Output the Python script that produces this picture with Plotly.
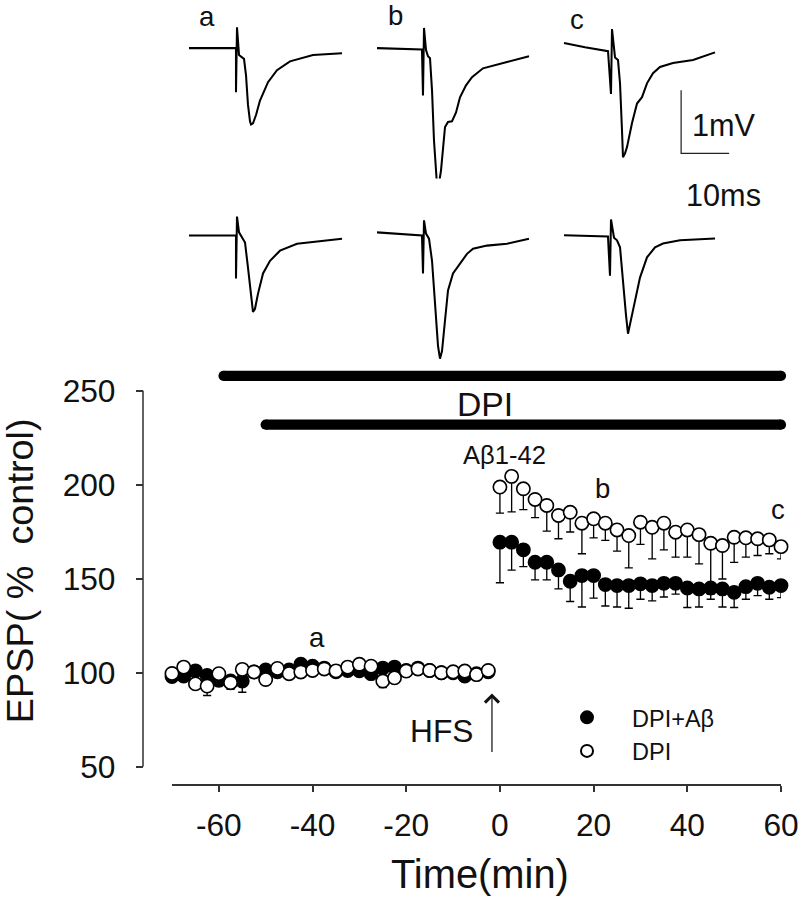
import plotly.graph_objects as go

# ---------------- time-course data ----------------
time_min = [-70, -67.5, -65, -62.5, -60, -57.5, -55, -52.5, -50, -47.5, -45, -42.5, -40, -37.5,
            -35, -32.5, -30, -27.5, -25, -22.5, -20, -17.5, -15, -12.5, -10, -7.5, -5, -2.5,
            0, 2.5, 5, 7.5, 10, 12.5, 15, 17.5, 20, 22.5, 25, 27.5, 30, 32.5, 35, 37.5,
            40, 42.5, 45, 47.5, 50, 52.5, 55, 57.5, 60]

dpi_abeta = [98, 98.2, 101, 98.6, 96, 95.6, 95.6, 100.5, 101.5, 100.5, 101.5, 104.5, 103.5, 102.5,
             100.5, 101.2, 101, 99.5, 102.5, 103, 101.2, 102.5, 101.2, 100, 100, 98.2, 99.5, 100.5,
             169.5, 169.5, 165.4, 158.8, 158.8, 154.7, 148.7, 151.7, 151.7, 146.9, 146.4, 146.4, 147.3,
             146.4, 147.6, 147.6, 145.1, 144.6, 145.1, 144.6, 142.8, 145.8, 147.6, 145.5, 146.4]
dpi_abeta_sem = [2, 2, 2, 2, 3, 2, 6, 2, 2, 2, 2, 2, 2, 2,
                 2, 2, 2, 2, 3, 2, 2, 2, 2, 2, 2, 2, 2, 2,
                 21.6, 14.9, 8.9, 9.4, 9.4, 10.1, 10.8, 16.7, 12, 11.4, 11.4, 12.1, 8.2,
                 8.2, 7.3, 5.8, 10.4, 9.6, 6, 9.6, 8.1, 6.7, 6.6, 6.4, 6.4]

dpi_only = [99.6, 103, 94.1, 92.9, 99.5, 94.7, 101.8, 100.4, 96.4, 102.3, 99.5, 100.4, 101.2, 102,
            101, 103, 104.5, 103.5, 95.6, 97.3, 100.9, 102, 101.2, 100, 100.5, 100.9, 99, 101.2,
            198.8, 204.5, 197.9, 192.2, 189, 183.7, 185.4, 179.6, 181.9, 179.6, 176, 173, 180.1,
            177.4, 179.6, 174.8, 176, 173.5, 168.9, 167.7, 172.1, 171.8, 171.3, 170.7, 167.1]
dpi_only_sem = [1.5, 1.5, 2, 5, 1.5, 3.5, 1.5, 1.5, 2, 1.5, 1.5, 1.5, 1.5, 1.5,
                1.5, 1.5, 1.5, 1.5, 3.5, 2, 1.5, 1.5, 1.5, 1.5, 1.5, 1.5, 1.5, 1.5,
                13.9, 18.9, 11.1, 9.7, 13.6, 12.4, 10.5, 16.3, 10.1, 9.2, 11.3, 17.2, 11.8,
                16.8, 14.2, 13.3, 14.5, 15.6, 27, 17.8, 13.4, 10.3, 8.9, 7.4, 6.5]

series_names = ["DPI+A\u03b2", "DPI"]

x_tick_vals = [-60, -40, -20, 0, 20, 40, 60]
x_tick_text = ["-60", "-40", "-20", "0", "20", "40", "60"]
y_tick_vals = [50, 100, 150, 200, 250]

# drug application periods (min)
dpi_period = [-59, 60]
abeta_period = [-50, 60]
hfs_time = -1.7

# ---------------- sample EPSP traces (ms, mV) ----------------
a_top_ms = [-10, -0.21, -0.21, 0, 0.42, 1.04, 1.46, 1.88, 2.29, 2.71, 2.92, 3.33, 3.96, 4.79, 5.63,
            6.46, 8.33, 11.04, 15.83, 21.88]
a_top_mv = [0, 0, -0.70, 0.33, -0.11, -0.14, -0.17, -0.43, -0.90, -1.16, -1.21, -1.19, -1.06, -0.83,
            -0.67, -0.54, -0.35, -0.21, -0.11, -0.08]
b_top_ms = [-9.79, -0.42, -0.21, 0, 0.42, 0.83, 1.25, 1.67, 2.08, 2.5, 2.71, 3.13, 3.54, 4.38, 5.0,
            5.83, 6.67, 7.5, 8.75, 10.0, 12.29, 17.29, 21.88]
b_top_mv = [0, -0.02, -0.75, 0.32, -0.03, -0.13, -0.16, -0.67, -1.46, -2.06, -2.17, -2.14, -1.94,
            -1.25, -1.17, -1.16, -1.02, -0.78, -0.59, -0.46, -0.32, -0.22, -0.13]
c_top_ms = [-10, -5.63, -0.83, -0.21, 0, 0.63, 1.25, 1.67, 2.08, 2.29, 2.71, 3.13, 4.17, 5.21, 6.25,
            7.29, 8.54, 10.0, 12.71, 16.88, 21.46]
c_top_mv = [0.13, 0.06, 0, -0.68, 0.35, -0.10, -0.14, -0.51, -1.25, -1.68, -1.62, -1.52, -1.14,
            -0.83, -0.73, -0.51, -0.35, -0.25, -0.19, -0.14, -0.02]
a_bot_ms = [-10, -0.21, -0.21, 0, 0.42, 1.04, 1.67, 2.29, 2.92, 3.33, 3.75, 4.38, 5.42, 6.88, 8.96,
            12.5, 21.88]
a_bot_mv = [0, 0, -0.68, 0.30, 0.05, -0.02, -0.11, -0.51, -1.0, -1.21, -1.16, -0.92, -0.60, -0.40,
            -0.24, -0.13, -0.05]
b_bot_ms = [-9.58, -0.21, 0, 0.21, 0.63, 1.25, 1.88, 2.5, 3.13, 3.54, 3.96, 4.58, 5.21, 6.25, 7.71,
            9.17, 10.42, 13.33, 17.5, 22.08]
b_bot_mv = [0.05, 0, -0.60, 0.24, 0.03, -0.05, -0.40, -1.03, -1.75, -1.95, -1.83, -1.35, -0.87,
            -0.60, -0.44, -0.29, -0.21, -0.16, -0.13, -0.05]
c_bot_ms = [-9.79, -0.63, -0.21, 0, 0.63, 1.25, 1.88, 2.5, 3.13, 3.54, 3.96, 4.58, 6.04, 7.5, 9.17,
            10.83, 14.38, 21.67]
c_bot_mv = [0.02, 0, -0.62, 0.27, -0.02, -0.06, -0.17, -0.75, -1.25, -1.54, -1.41, -1.17, -0.65,
            -0.33, -0.17, -0.11, -0.06, -0.03]
trace_labels = ["a", "b", "c"]
scale_ms = 10
scale_mv = 1

# ---------------- layout geometry ----------------
# positions below are given in the 798x899 picture's pixels; the page is drawn
# slightly larger and comes out at this size, so pixel sizes are scaled by K.
PIC_W, PIC_H = 798, 899
W, H = 816, 919
K = W / PIC_W
PX_MS, PX_MV = 4.8, 63.0
FONT = "Liberation Sans, Arial"


def px(x):
    return x / PIC_W


def py(y):
    return 1 - y / PIC_H


def k(v):
    return v * K


fig = go.Figure()

fig.update_layout(
    xaxis=dict(domain=[px(172), px(781)], range=[-70, 60], anchor="free", position=py(783),
               showline=True, linecolor="#333", linewidth=k(1.5), ticks="outside", ticklen=k(6),
               tickwidth=k(1.5), tickcolor="#333", tickvals=x_tick_vals, ticktext=x_tick_text,
               tickfont=dict(family=FONT, size=k(31), color="#111"), ticklabeloverflow="allow",
               ticklabelstandoff=round(k(6)), showgrid=False, zeroline=False),
    yaxis=dict(domain=[py(765), py(765 - 212 * 1.875)], range=[50, 262], anchor="free",
               position=px(143), showline=False, ticks="outside", ticklen=k(7), tickwidth=k(1.5),
               tickcolor="#333", tickvals=y_tick_vals,
               tickfont=dict(family=FONT, size=k(31), color="#111"), ticklabeloverflow="allow",
               ticklabelstandoff=round(k(14)), showgrid=False, zeroline=False),
)

# y-axis line only from 50 to 250
fig.add_shape(type="line", xref="paper", yref="y", x0=px(143), x1=px(143), y0=50, y1=250,
              line=dict(color="#333", width=k(1.5)))

# drug bars (round ends via markers)
for period, level in [(dpi_period, 258), (abeta_period, 232)]:
    fig.add_trace(go.Scatter(x=period, y=[level, level], mode="lines+markers",
                             line=dict(color="black", width=k(10)),
                             marker=dict(color="black", size=k(10)), cliponaxis=False,
                             showlegend=False, hoverinfo="skip"))

# time-course series
fig.add_trace(go.Scatter(
    x=time_min, y=dpi_abeta, mode="markers", name=series_names[0], cliponaxis=False,
    marker=dict(symbol="circle", size=k(13), color="black", line=dict(color="black", width=k(1.5))),
    error_y=dict(type="data", symmetric=False, array=[0] * len(dpi_abeta_sem),
                 arrayminus=dpi_abeta_sem, color="black", thickness=k(1.3), width=k(4))))
fig.add_trace(go.Scatter(
    x=time_min, y=dpi_only, mode="markers", name=series_names[1], cliponaxis=False,
    marker=dict(symbol="circle", size=k(13), color="white", line=dict(color="black", width=k(1.6))),
    error_y=dict(type="data", symmetric=False, array=[0] * len(dpi_only_sem),
                 arrayminus=dpi_only_sem, color="black", thickness=k(1.3), width=k(4))))

# sample traces in small panels
panels = [
    (a_top_ms, a_top_mv, 237, 48),
    (b_top_ms, b_top_mv, 424, 48),
    (c_top_ms, c_top_mv, 612, 51),
    (a_bot_ms, a_bot_mv, 237, 235),
    (b_bot_ms, b_bot_mv, 423, 235),
    (c_bot_ms, c_bot_mv, 611, 236),
]
for i, (tms, vmv, art, base) in enumerate(panels):
    n = i + 2
    fig.add_trace(go.Scatter(x=tms, y=vmv, mode="lines", xaxis=f"x{n}", yaxis=f"y{n}",
                             line=dict(color="black", width=k(2)), showlegend=False,
                             hoverinfo="skip"))
    fig.layout[f"xaxis{n}"] = dict(domain=[px(art - 50), px(art + 125)],
                                   range=[-50 / PX_MS, 125 / PX_MS], anchor=f"y{n}", visible=False)
    fig.layout[f"yaxis{n}"] = dict(domain=[py(base + 130), py(base - 30)],
                                   range=[-130 / PX_MV, 30 / PX_MV], anchor=f"x{n}", visible=False)

# scale bar in panel c (top)
sb_x0, sb_y0 = 14.4, -0.62
fig.add_trace(go.Scatter(x=[sb_x0, sb_x0, sb_x0 + scale_ms],
                         y=[sb_y0, sb_y0 - scale_mv, sb_y0 - scale_mv],
                         mode="lines", xaxis="x4", yaxis="y4",
                         line=dict(color="#222", width=k(1.2)), showlegend=False, hoverinfo="skip"))

ann = []


def add_text(text, x, y, size, xref="paper", yref="paper", angle=0, xanchor="center"):
    ann.append(dict(text=text, x=x, y=y, xref=xref, yref=yref, showarrow=False,
                    textangle=angle, xanchor=xanchor, yanchor="middle",
                    font=dict(family=FONT, size=k(size), color="#111")))


# panel labels
for lab, (xx, yy) in zip(trace_labels, [(207, 16), (395, 15), (577, 19)]):
    add_text(lab, px(xx), py(yy), 27)
add_text("1mV", px(724), py(125), 30)
add_text("10ms", px(723), py(195), 30)

# main plot texts
add_text("DPI", px(485), py(403), 33)
add_text("A\u03b21-42", px(504), py(454), 25)
add_text("a", -39, 119, 27, xref="x", yref="y")
add_text("b", 22, 198, 27, xref="x", yref="y")
add_text("c", 59.3, 187, 27, xref="x", yref="y")
add_text("HFS", px(441), py(729), 31)
add_text("Time(min)", px(480), py(872), 39)
add_text("EPSP( %\u00a0 control)", px(20), py(570), 37, angle=-90)

# HFS arrow
ann.append(dict(x=hfs_time, y=89, ax=hfs_time, ay=57, xref="x", yref="y", axref="x", ayref="y",
                showarrow=True, arrowhead=4, arrowsize=2.2, arrowwidth=k(1.2), arrowcolor="#111",
                text=""))

fig.update_layout(
    annotations=ann,
    width=W, height=H, margin=dict(l=0, r=0, t=0, b=0),
    paper_bgcolor="white", plot_bgcolor="white",
    showlegend=True,
    legend=dict(x=px(542), y=py(694), xanchor="left", yanchor="top", itemwidth=round(k(78)),
                font=dict(family=FONT, size=k(23), color="#111"), bgcolor="rgba(0,0,0,0)",
                itemsizing="constant", tracegroupgap=0),
)

fig.write_html("out.html", config={"displayModeBar": False},
               post_script="document.body.style.margin='0';")
